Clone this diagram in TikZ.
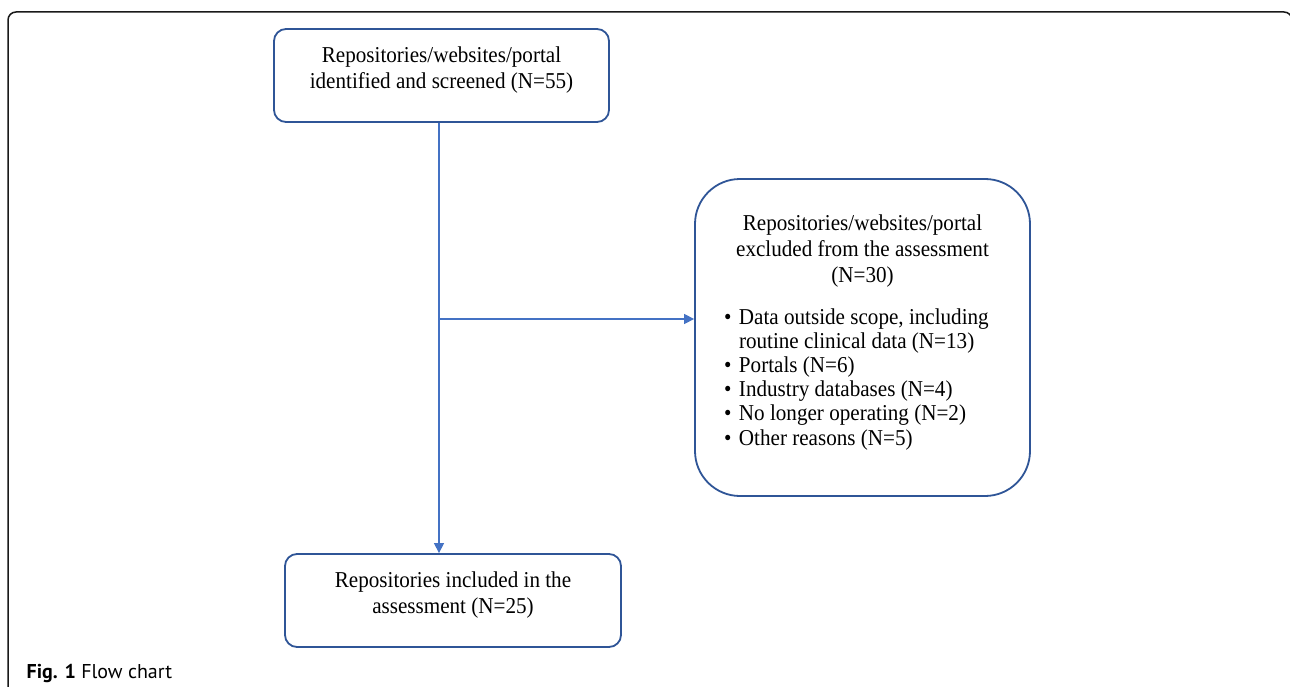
\documentclass[tikz,border=0pt]{standalone}
\usepackage{fontspec}
\setmainfont[FakeStretch=0.93]{Liberation Serif}
\newfontfamily\capfont{PT Sans}
\usetikzlibrary{calc,positioning,arrows.meta}
\definecolor{boxblue}{HTML}{2F5597}
\definecolor{wireblue}{HTML}{4472C4}
\newcommand\topstrut{\rule{0pt}{17pt}}
\newcommand\botstrut{\rule[-17pt]{0pt}{17pt}}
\newcommand\reason[1]{\par\noindent\makebox[15pt][l]{\textbullet}#1\par}
\newcommand\reasoncont[1]{\par\noindent\hspace*{15pt}#1\par}
\tikzset{
  wire/.style={draw=wireblue, line width=1.3pt, -{Triangle[length=10pt,width=10pt]}},
  box/.style={draw=boxblue, line width=1.8pt, rounded corners=12pt, fill=white, align=center,
    minimum width=335pt, minimum height=93pt, inner sep=0pt,
    font=\fontsize{22.7pt}{26pt}\selectfont},
  bigbox/.style={box, rounded corners=45pt, minimum height=317pt, text width=277pt, align=left},
  frame/.style={draw=black!90, line width=1.5pt, rounded corners=8pt},
  caption/.style={font=\capfont\fontsize{20pt}{24pt}\selectfont, inner sep=0pt}
}
\begin{document}
\begin{tikzpicture}[x=1pt,y=1pt]
  \useasboundingbox (0,0) rectangle (1290,-687);
  \clip (0,0) rectangle (1290,-687);
  \draw[frame] (8,-720) rectangle (1292,-12);
  \node[box] (ident) at (441.5,-75.5)
    {\topstrut Repositories/websites/portal\\identified and screened (N=55)\botstrut};
  \node[bigbox] (excl) at (862.5,-337.5) {%
    \spaceskip=0pt \xspaceskip=0pt
    {\centering\topstrut Repositories/websites/portal\\
     excluded from the assessment\\
     (N=30)\par}
    \vspace{17.8pt}
    {\raggedright\baselineskip=24.2pt
     \reason{Data outside scope, including}
     \reasoncont{routine clinical data (N=13)}
     \reason{Portals (N=6)}
     \reason{Industry databases (N=4)}
     \reason{No longer operating (N=2)}
     \reason{Other reasons (N=5)\botstrut}}};
  \node[box, minimum width=336pt] (incl) at (453,-600.5)
    {\topstrut Repositories included in the\\assessment (N=25)\botstrut};
  \coordinate (split) at (439,-319);
  \draw[wire] (ident.south -| split) -- (incl.north -| split);
  \draw[wire] (split) -- (split -| excl.west);
  \node[caption, anchor=base west] (cap) at (26.5,-678) {\textbf{Fig. 1} Flow chart};
\end{tikzpicture}
\end{document}
